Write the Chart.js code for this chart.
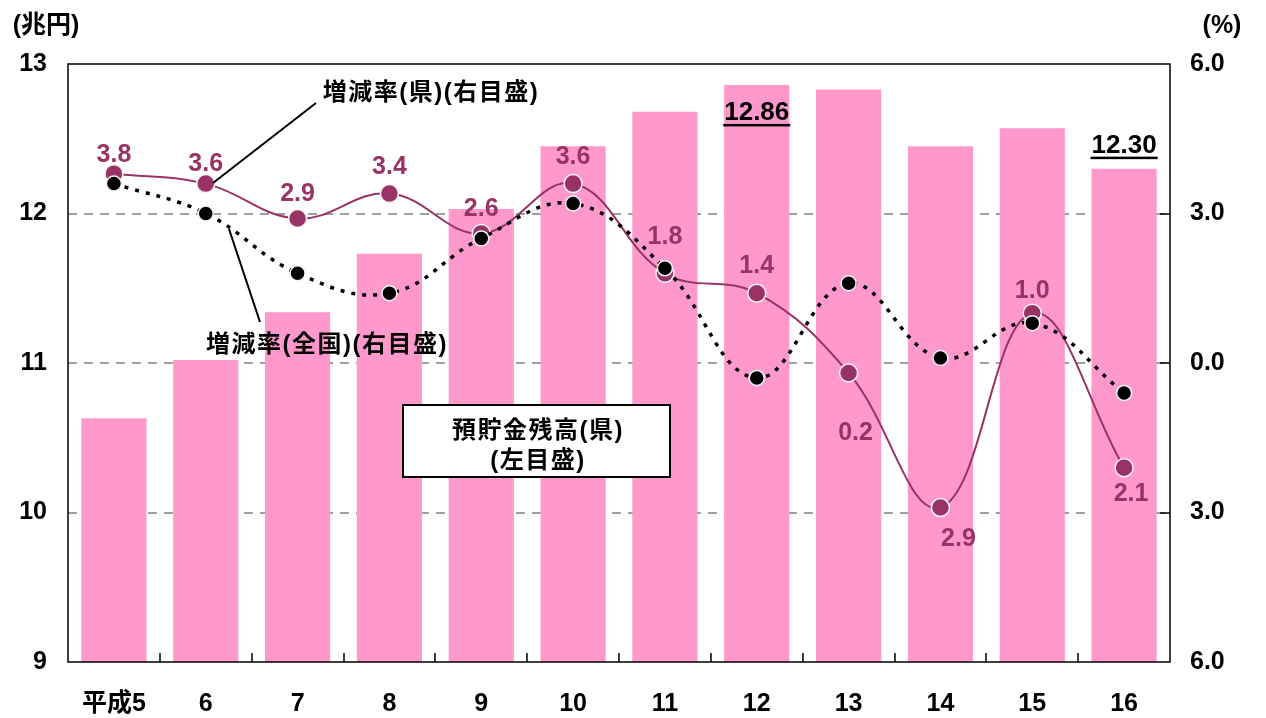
<!DOCTYPE html>
<html><head><meta charset="utf-8">
<script src="https://cdn.jsdelivr.net/npm/chart.js@4/dist/chart.umd.min.js"></script>
<style>html,body{margin:0;padding:0;background:#fff}#wrap{width:1266px;height:718px;position:relative}</style>
</head><body><div id="wrap"><canvas id="c" width="1266" height="718"></canvas></div>
<script>
// ---- data ----
const categories = ['平成5','6','7','8','9','10','11','12','13','14','15','16'];
const depositBalance = [10.63,11.02,11.34,11.73,12.03,12.45,12.68,12.86,12.83,12.45,12.57,12.30];
const prefRate = [3.8,3.6,2.9,3.4,2.6,3.6,1.8,1.4,-0.2,-2.9,1.0,-2.1];
const nationalRate = [3.6,3.0,1.8,1.4,2.5,3.2,1.9,-0.3,1.6,0.1,0.8,-0.6];
const leftTicks = [9,10,11,12,13];
const rightTicks = [-6,-3,0,3,6];
const balanceLabelIdx = [7,11];

// ---- styling ----
const LAT = '"Liberation Sans",Arial,"Noto Sans CJK JP",sans-serif';
const CJK = '"Liberation Sans","Noto Sans CJK JP",sans-serif';
const PINK = '#FF99CC', PLUM = '#993366';
const prefLabelOffset = [[0,-19],[0,-19],[0,-24],[0,-26],[0,-24],[0,-26],[0,-36],[0,-27],[7,60],[18,32],[0,-22],[7,26]];
const balanceLabelOffset = {7: 28, 11: -23};

const overlay = {
  id: 'overlay',
  beforeDatasetsDraw(chart) {
    const {ctx, chartArea: a, scales} = chart;
    const y = scales.y;
    ctx.save();
    ctx.strokeStyle = '#7f7f7f'; ctx.lineWidth = 1.5; ctx.setLineDash([9,7]);
    leftTicks.forEach(v => {
      if (v === y.min || v === y.max) return;
      const py = Math.round(y.getPixelForValue(v));
      ctx.beginPath(); ctx.moveTo(a.left, py); ctx.lineTo(a.right, py); ctx.stroke();
    });
    ctx.restore();
  },
  afterDatasetsDraw(chart) {
    const {ctx, chartArea: a, scales} = chart;
    const x = scales.x, y2 = scales.y2;
    ctx.save();
    // frame
    ctx.strokeStyle = '#000'; ctx.lineWidth = 1.5; ctx.setLineDash([]);
    ctx.strokeRect(a.left, a.top, a.right - a.left, a.bottom - a.top);
    // x ticks (inside)
    ctx.beginPath();
    for (let i = 1; i < categories.length; i++) {
      const px = Math.round((x.getPixelForValue(i - 1) + x.getPixelForValue(i)) / 2);
      ctx.moveTo(px, a.bottom); ctx.lineTo(px, a.bottom - 9);
    }
    rightTicks.forEach(v => {
      if (v === y2.min || v === y2.max) return;
      const py = Math.round(y2.getPixelForValue(v));
      ctx.moveTo(a.right, py); ctx.lineTo(a.right - 10, py);
    });
    ctx.stroke();

    // pref labels
    const m1 = chart.getDatasetMeta(1);
    ctx.font = 'bold 25px ' + LAT;
    ctx.fillStyle = PLUM; ctx.textAlign = 'center'; ctx.textBaseline = 'middle';
    m1.data.forEach((pt, i) => {
      const o = prefLabelOffset[i];
      ctx.fillText(Math.abs(prefRate[i]).toFixed(1), pt.x + o[0], pt.y + o[1]);
    });

    // balance labels
    const m0 = chart.getDatasetMeta(0);
    ctx.font = 'bold 26px ' + LAT;
    ctx.fillStyle = '#000';
    balanceLabelIdx.forEach(i => {
      const bar = m0.data[i];
      const t = depositBalance[i].toFixed(2);
      const cy = bar.y + balanceLabelOffset[i];
      ctx.fillText(t, bar.x, cy);
      const w = ctx.measureText(t).width;
      ctx.fillRect(bar.x - w / 2 - 1, cy + 11, w + 2, 2.5);
    });

    // annotations
    ctx.font = 'bold 24px ' + CJK;
    ctx.letterSpacing = '1.5px';
    ctx.fillText('増減率(県)(右目盛)', 431, 93);
    ctx.fillText('増減率(全国)(右目盛)', 327, 345);
    ctx.lineWidth = 2;
    ctx.beginPath();
    ctx.moveTo(316, 103); ctx.lineTo(213, 183);
    ctx.moveTo(229, 229); ctx.lineTo(260, 322);
    ctx.stroke();
    // box
    ctx.fillStyle = '#fff';
    ctx.fillRect(403, 405, 267, 72);
    ctx.strokeRect(403, 405, 267, 72);
    ctx.fillStyle = '#000';
    ctx.fillText('預貯金残高(県)', 538, 431);
    ctx.fillText('(左目盛)', 538, 461);
    ctx.restore();
  }
};

new Chart(document.getElementById('c'), {
  data: {
    labels: categories,
    datasets: [
      { type: 'bar', data: depositBalance, backgroundColor: PINK, yAxisID: 'y',
        barPercentage: 0.71, categoryPercentage: 1.0, order: 3 },
      { type: 'line', data: prefRate, yAxisID: 'y2', borderColor: PLUM, borderWidth: 2,
        tension: 0.4, pointRadius: 9, pointBackgroundColor: PLUM, pointBorderColor: '#f4f4f4',
        pointBorderWidth: 1.5, order: 2 },
      { type: 'line', data: nationalRate, yAxisID: 'y2', borderColor: '#000', borderWidth: 3.5,
        borderDash: [4,7], tension: 0.4, pointRadius: 7.5, pointBackgroundColor: '#000',
        pointBorderColor: '#f4f4f4', pointBorderWidth: 1.5, order: 1 }
    ]
  },
  options: {
    responsive: false, animation: false, devicePixelRatio: 1,
    layout: { padding: { top: 64, left: 0, right: 0, bottom: 0 } },
    plugins: { legend: { display: false }, tooltip: { enabled: false } },
    scales: {
      x: { type: 'category', offset: true, grid: { display: false, drawTicks: false },
        border: { display: false },
        ticks: { color: '#000', font: { family: LAT, size: 25, weight: 'bold' }, padding: 27, maxRotation: 0 },
        afterFit: s => { s.height = 56; } },
      y: { position: 'left', min: 9, max: 13, grid: { display: false, drawTicks: false },
        border: { display: false },
        ticks: { stepSize: 1, color: '#000', font: { family: LAT, size: 25, weight: 'bold' }, padding: 21 },
        afterBuildTicks: s => { s.ticks = leftTicks.map(v => ({ value: v })); },
        afterFit: s => { s.width = 68; } },
      y2: { position: 'right', min: -6, max: 6, grid: { display: false, drawTicks: false },
        border: { display: false },
        ticks: { color: '#000', font: { family: LAT, size: 25, weight: 'bold' }, padding: 20,
          callback: v => Math.abs(v).toFixed(1) },
        afterBuildTicks: s => { s.ticks = rightTicks.map(v => ({ value: v })); },
        afterFit: s => { s.width = 96; } }
    }
  },
  plugins: [overlay, {
    id: 'titles',
    afterDraw(chart) {
      const ctx = chart.ctx;
      ctx.save();
      ctx.fillStyle = '#000'; ctx.textAlign = 'center'; ctx.textBaseline = 'middle';
      ctx.font = 'bold 25px ' + CJK;
      ctx.fillText('(兆円)', 46, 26);
      ctx.fillText('(%)', 1222, 26);
      ctx.restore();
    }
  }]
});
</script>
</body></html>
